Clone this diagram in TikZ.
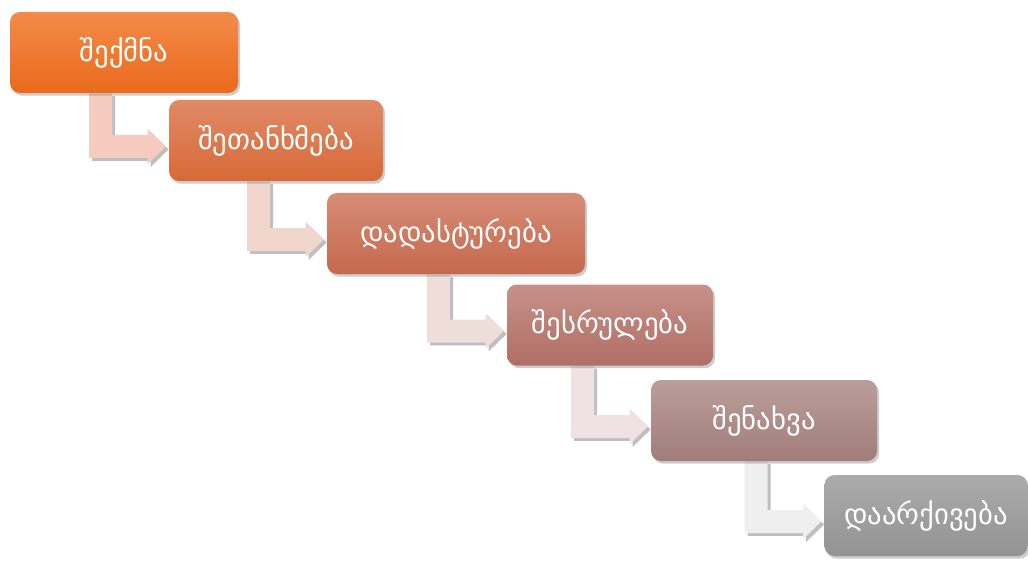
\documentclass[tikz,border=0pt]{standalone}
\usepackage{fontspec}
\newfontfamily\geofont{DejaVu Sans}
\usepackage{tikz}
\usetikzlibrary{calc,shadows,backgrounds}
\definecolor{stepA}{HTML}{F38B4A}
\definecolor{stepAb}{HTML}{EA6A1C}
\definecolor{stepB}{HTML}{E08A68}
\definecolor{stepBb}{HTML}{D86937}
\definecolor{stepC}{HTML}{D68C77}
\definecolor{stepCb}{HTML}{C5694C}
\definecolor{stepD}{HTML}{C69189}
\definecolor{stepDb}{HTML}{B06E66}
\definecolor{stepE}{HTML}{BA9E9A}
\definecolor{stepEb}{HTML}{A17D7A}
\definecolor{stepF}{HTML}{ABABAB}
\definecolor{stepFb}{HTML}{939393}
\definecolor{flowA}{HTML}{F5CBBF}
\definecolor{flowB}{HTML}{F1D6CE}
\definecolor{flowC}{HTML}{EFDDDA}
\definecolor{flowD}{HTML}{EEE3E2}
\definecolor{flowE}{HTML}{EFEFEF}
\tikzset{
	stage/.style={rounded corners=7.5pt, inner sep=0pt, minimum height=60.75pt,
		text=white, font=\geofont\fontsize{21.5}{24}\selectfont,
		drop shadow={shadow xshift=1.5pt, shadow yshift=-2pt, opacity=.4}}
}
\tikzstyle{flow}=[drop shadow={shadow xshift=2.2pt, shadow yshift=-2.2pt, opacity=.5}]
\newcommand{\bentarrow}[3]{
	\coordinate (tip) at ($(#2.west)+(-3,6)$);
	\coordinate (mid) at ($(#2.west)+(-68,6)$);
	\fill[flow, #3] ($(mid|-#1.south)+(-11.5,0)$) |- ($(tip)+(-18,11.5)$) -- ++(0,6) -- (tip)
		-- ++(-18,-17.5) -- ++(0,6) -| ($(mid|-#1.south)+(11.5,0)$) -- cycle;
}

\begin{document}
\begin{tikzpicture}[x=0.75pt, y=-0.75pt]
	\useasboundingbox (0,0) rectangle (1028,563);
%
	\node[stage, minimum width=171pt, top color=stepA, bottom color=stepAb] (create) at (124,52.5) {შექმნა};
	\node[stage, minimum width=160.5pt, top color=stepB, bottom color=stepBb] (agree) at (276,140.5) {შეთანხმება};
	\node[stage, minimum width=193.5pt, top color=stepC, bottom color=stepCb] (confirm) at (456,233.5) {დადასტურება};
	\node[stage, minimum width=154.5pt, top color=stepD, bottom color=stepDb] (execute) at (610,325) {შესრულება};
	\node[stage, minimum width=169.5pt, top color=stepE, bottom color=stepEb] (store) at (764,420.5) {შენახვა};
	\node[stage, minimum width=152.25pt, top color=stepF, bottom color=stepFb] (archive) at (926,515.5) {დაარქივება};
%
	\begin{scope}[on background layer]
		\bentarrow{create}{agree}{fill=flowA}
		\bentarrow{agree}{confirm}{fill=flowB}
		\bentarrow{confirm}{execute}{fill=flowC}
		\bentarrow{execute}{store}{fill=flowD}
		\bentarrow{store}{archive}{fill=flowE}
	\end{scope}
\end{tikzpicture}
\end{document}
